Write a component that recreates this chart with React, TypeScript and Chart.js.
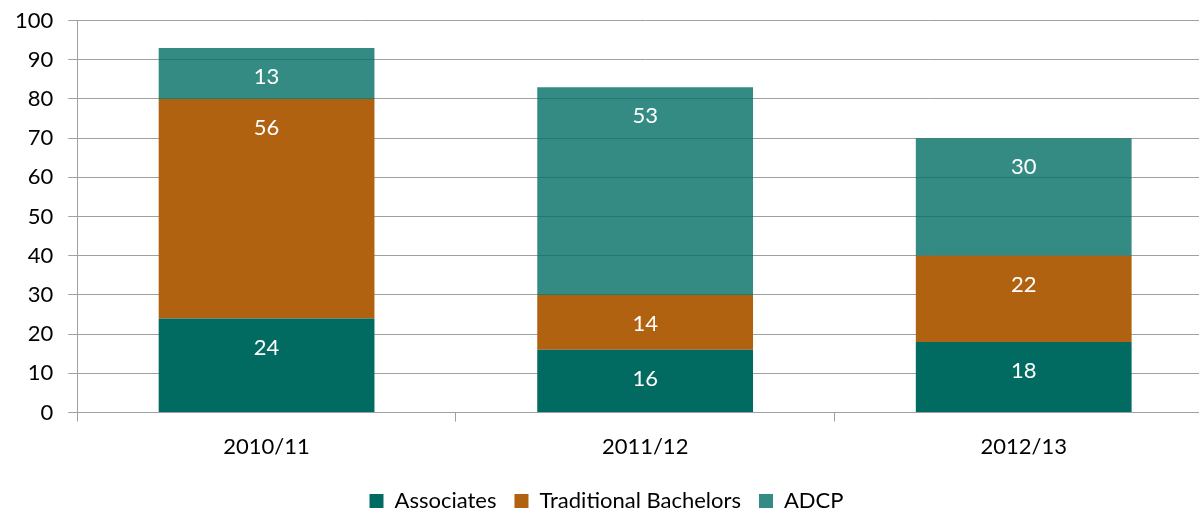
import React, { useEffect, useRef } from "react";
import { Chart, registerables } from "chart.js";

Chart.register(...registerables);

const categories = ["2010/11", "2011/12", "2012/13"];
const associates = [24, 16, 18];
const traditionalBachelors = [56, 14, 22];
const adcp = [13, 53, 30];
const yTicks = { min: 0, max: 100, step: 10 };

const FONT = "Lato, 'Open Sans', sans-serif";
const LABEL_OFFSET = 29;

const labelPlugin = {
  id: "barLabels",
  afterDatasetsDraw(chart: any) {
    const ctx = chart.ctx;
    ctx.save();
    ctx.fillStyle = "#FFFFFF";
    ctx.font = `22px ${FONT}`;
    ctx.textAlign = "center";
    ctx.textBaseline = "middle";
    chart.data.datasets.forEach((ds: any, di: number) => {
      const meta = chart.getDatasetMeta(di);
      meta.data.forEach((bar: any, i: number) => {
        const top = Math.min(bar.y, bar.base);
        ctx.fillText(String(ds.data[i]), bar.x, top + LABEL_OFFSET);
      });
    });
    ctx.restore();
  },
};

export default function App() {
  const ref = useRef<HTMLCanvasElement | null>(null);
  useEffect(() => {
    document.body.style.margin = "0";
    document.body.style.overflow = "hidden";
    const chart = new Chart(ref.current as HTMLCanvasElement, {
      type: "bar",
      data: {
        labels: categories,
        datasets: [
          { label: "Associates", data: associates, backgroundColor: "#016B61" },
          { label: "Traditional Bachelors", data: traditionalBachelors, backgroundColor: "#B06210" },
          { label: "ADCP", data: adcp, backgroundColor: "rgba(1,110,100,0.8)" },
        ],
      },
      plugins: [labelPlugin],
      options: {
        animation: false,
        responsive: false,
        maintainAspectRatio: false,
        datasets: { bar: { barPercentage: 0.57, categoryPercentage: 1 } },
        layout: { padding: { left: 0, top: 5, right: 0, bottom: -6 } },
        plugins: {
          tooltip: { enabled: false },
          legend: {
            position: "bottom",
            labels: {
              boxWidth: 14,
              boxHeight: 14,
              padding: 18,
              color: "#000",
              font: { family: FONT, size: 22 },
            },
          },
        },
        scales: {
          x: {
            stacked: true,
            grid: {
              offset: true,
              drawOnChartArea: false,
              tickLength: 9,
              color: "#A0A0A0",
            },
            border: { color: "#A0A0A0" },
            ticks: { color: "#000", padding: 12, font: { family: FONT, size: 22 } },
          },
          y: {
            stacked: true,
            min: yTicks.min,
            max: yTicks.max,
            ticks: {
              stepSize: yTicks.step,
              color: "#000",
              padding: 15,
              font: { family: FONT, size: 22, lineHeight: 0.5 },
            },
            grid: { color: "#A0A0A0", tickLength: 9 },
            border: { color: "#A0A0A0" },
          },
        },
      },
    });
    return () => chart.destroy();
  }, []);
  return (
    <div style={{ position: "fixed", left: 0, top: 0, width: 1199, height: 516, overflow: "hidden" }}>
      <canvas ref={ref} width={1213} height={516} style={{ width: 1213, height: 516 }} />
    </div>
  );
}
